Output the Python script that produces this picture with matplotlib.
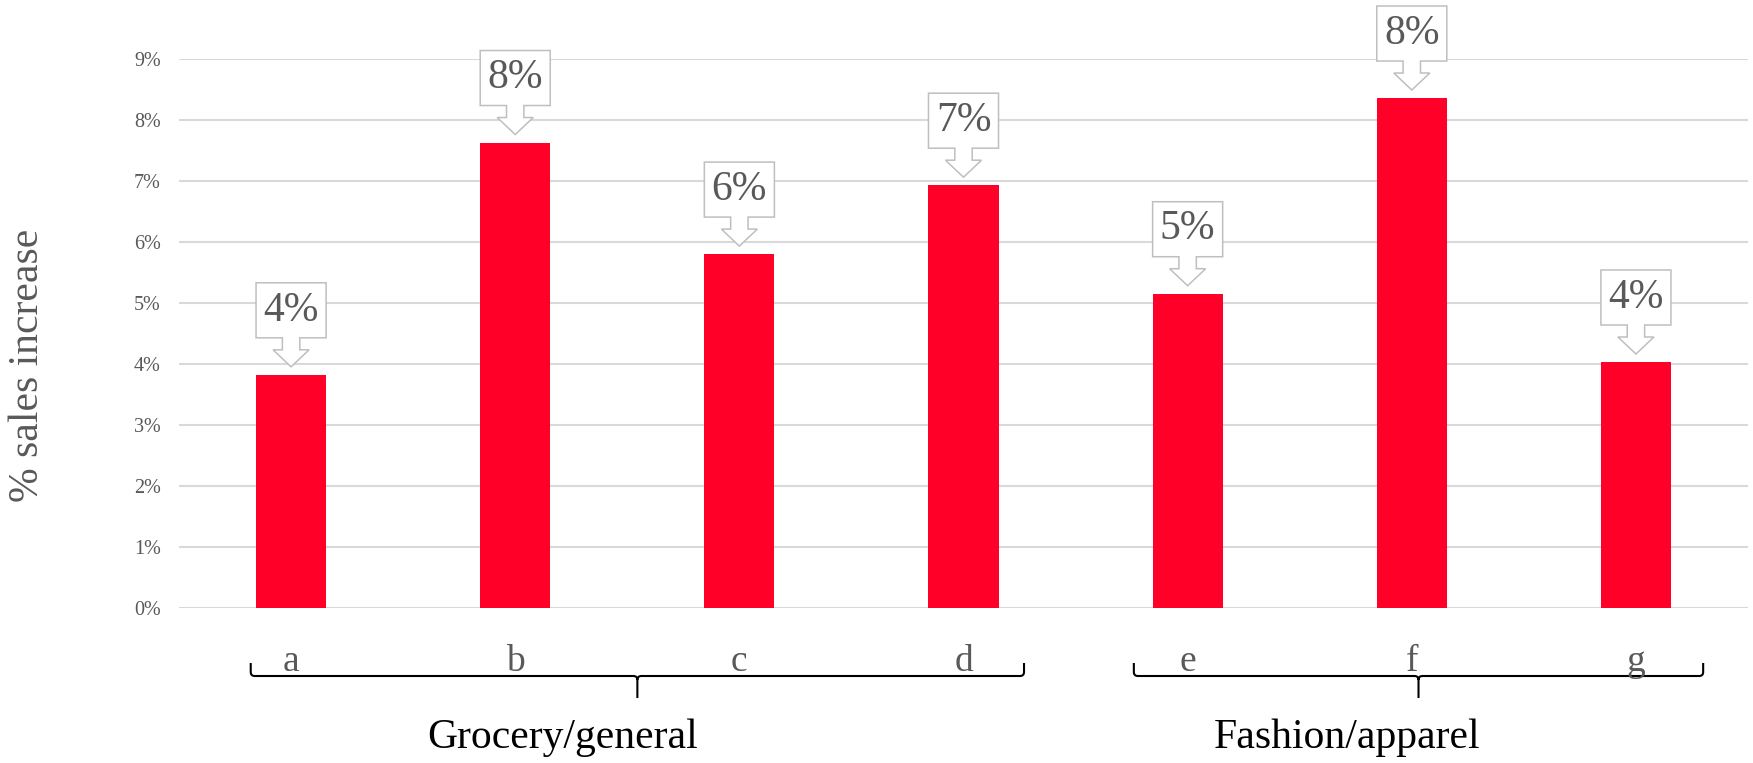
import numpy as np
import matplotlib.pyplot as plt
from matplotlib.path import Path
from matplotlib.patches import PathPatch, Polygon
from matplotlib.transforms import IdentityTransform

# sales increase per store, grouped by sector
stores = ['a', 'b', 'c', 'd', 'e', 'f', 'g']
increase = [3.82, 7.63, 5.80, 6.93, 5.15, 8.36, 4.03]
value_labels = ['4%', '8%', '6%', '7%', '5%', '8%', '4%']
groups = ['Grocery/general', 'Fashion/apparel']
yticks = list(range(10))

W, H = 1753, 763
DPI = 100
RED = '#FF0029'
GREY = '#595959'
BAR_W = 0.3125

# brace extents and label centres in data x units
brace_spans = [(-0.18, 3.27), (3.76, 6.30)]
group_label_x = [1.21, 4.71]

plt.rcParams['font.family'] = ['Liberation Serif', 'DejaVu Serif']

fig = plt.figure(figsize=(W / DPI, H / DPI), dpi=DPI)
ax = fig.add_axes([179 / W, 155.3 / H, 1569 / W, 548.7 / H])

x = np.arange(len(stores))
ax.bar(x, increase, width=BAR_W, color=RED, zorder=2)
ax.set_xlim(-0.5, len(stores) - 0.5)
ax.set_ylim(0, 9)
ax.set_yticks(yticks)
ax.set_yticklabels([f'{v}%' for v in yticks], fontsize=14.5, color=GREY)
ax.tick_params(axis='y', length=0, pad=13)
ax.set_xticks([])
ax.grid(axis='y', color='#D9D9D9', lw=1.5, zorder=0)
for s in ax.spines.values():
    s.set_visible(False)

ident = IdentityTransform()


def px(xd, yd=0.0):
    return ax.transData.transform((xd, yd))


half_w = px(BAR_W / 2)[0] - px(0)[0]


def callout(xc, top, text):
    '''White arrow box pointing down at the top of a bar'''
    cx, cy = px(xc, top)
    tip = cy + 8
    head = tip + 17
    box_bot = head + 12
    box_top = box_bot + 55
    sw, hh = 8.7, 18
    verts = [(cx - half_w, box_top), (cx + half_w, box_top),
             (cx + half_w, box_bot), (cx + sw, box_bot),
             (cx + sw, head), (cx + hh, head), (cx, tip),
             (cx - hh, head), (cx - sw, head), (cx - sw, box_bot),
             (cx - half_w, box_bot)]
    fig.add_artist(Polygon(verts, closed=True, facecolor='white',
                           edgecolor='#BFBFBF', lw=1.1, transform=ident, zorder=5))
    fig.text(cx, box_bot + 27.5, text, transform=ident, ha='center', va='center',
             fontsize=30, color=GREY, zorder=6)


for xi, v, lab in zip(x, increase, value_labels):
    callout(xi, v, lab)

# store letters under the bars
for xi, s in zip(x, stores):
    fig.text(px(xi)[0], H - 671, s, transform=ident, ha='center', va='baseline',
             fontsize=27, color=GREY)


def brace(x0, x1):
    '''Horizontal curly brace, hooks up at the ends and a point down in the middle'''
    a, b = px(x0)[0], px(x1)[0]
    c = (a + b) / 2
    y, up, down, r = H - 676, H - 663, H - 698, 4
    verts = [(a, up), (a, y + r), (a, y), (a + r, y),
             (c - r, y), (c, y), (c, y - r), (c, down),
             (c, y - r), (c, y), (c + r, y),
             (b - r, y), (b, y), (b, y + r), (b, up)]
    codes = [Path.MOVETO, Path.LINETO, Path.CURVE3, Path.CURVE3,
             Path.LINETO, Path.CURVE3, Path.CURVE3, Path.LINETO,
             Path.MOVETO, Path.CURVE3, Path.CURVE3,
             Path.LINETO, Path.CURVE3, Path.CURVE3, Path.LINETO]
    fig.add_artist(PathPatch(Path(verts, codes), fill=False, edgecolor='black',
                             lw=1.5, transform=ident))


for (x0, x1), name, lx in zip(brace_spans, groups, group_label_x):
    brace(x0, x1)
    fig.text(px(lx)[0], H - 748, name, transform=ident, ha='center', va='baseline',
             fontsize=30, color='black')

fig.text(38 / W, 398 / H, '% sales increase', rotation=90, rotation_mode='anchor',
         ha='center', va='baseline', fontsize=30, color=GREY)

fig.savefig('out.png', dpi=DPI, facecolor='white')
